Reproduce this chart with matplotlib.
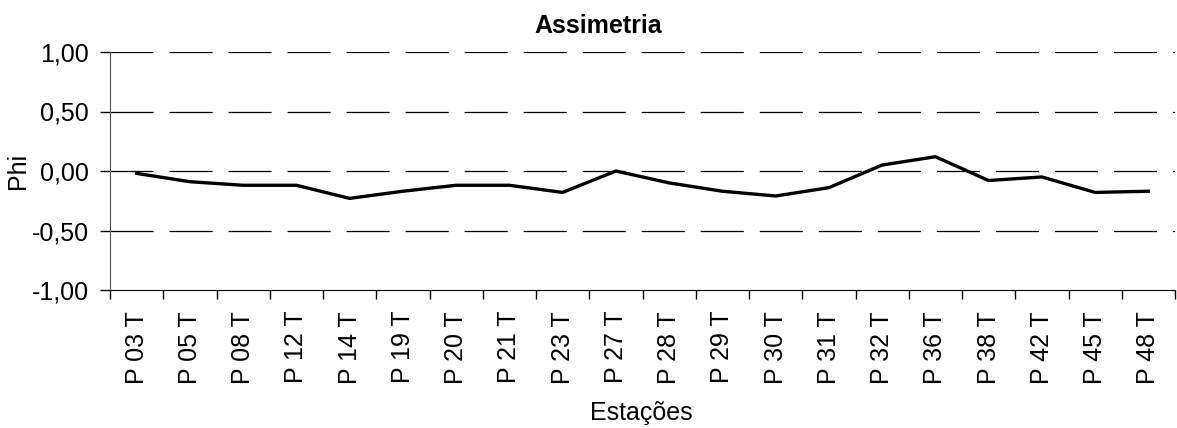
import numpy as np
import matplotlib
matplotlib.use('Agg')
import matplotlib.pyplot as plt

plt.rcParams['font.family'] = ['Liberation Sans', 'DejaVu Sans']
plt.rcParams['lines.scale_dashes'] = False

estacoes = ['P 03 T', 'P 05 T', 'P 08 T', 'P 12 T', 'P 14 T', 'P 19 T', 'P 20 T',
            'P 21 T', 'P 23 T', 'P 27 T', 'P 28 T', 'P 29 T', 'P 30 T', 'P 31 T',
            'P 32 T', 'P 36 T', 'P 38 T', 'P 42 T', 'P 45 T', 'P 48 T']
phi = [-0.02, -0.09, -0.12, -0.12, -0.23, -0.17, -0.12, -0.12, -0.18, 0.00,
       -0.10, -0.17, -0.21, -0.14, 0.05, 0.12, -0.08, -0.05, -0.18, -0.17]
yticks = [-1.0, -0.5, 0.0, 0.5, 1.0]

W, H = 1177, 428
fig = plt.figure(figsize=(W/100, H/100), dpi=100)
ax = fig.add_axes([110/W, (H-290)/H, 1065/W, 238/H])

x = np.arange(len(estacoes))
ax.plot(x, phi, color='black', linewidth=2.4, zorder=3)

ax.set_xlim(-0.5, len(estacoes) - 0.5)
ax.set_ylim(-1, 1)

# eixo y + grade tracejada
ax.set_yticks(yticks)
ax.set_yticklabels([('%.2f' % v).replace('.', ',') for v in yticks], fontsize=18)
ax.yaxis.set_tick_params(length=7.2, width=1, color='black', pad=8)
for v in yticks[1:]:
    ax.axhline(v, color='black', linewidth=0.9, dashes=(31, 11.5), zorder=1)

# marcas entre categorias, rótulos no centro
ax.set_xticks(np.arange(-0.5, len(estacoes), 1.0))
ax.set_xticklabels([])
ax.tick_params(axis='x', which='major', length=6.3, width=1, color='black')
ax.set_xticks(x, minor=True)
ax.set_xticklabels(estacoes, minor=True, rotation=90, fontsize=18)
ax.tick_params(axis='x', which='minor', length=0, pad=15)

ax.spines['top'].set_visible(False)
ax.spines['right'].set_visible(False)
ax.spines['left'].set_color('#555555')
ax.spines['bottom'].set_color('black')

fig.text(598/W, (H-33)/H, 'Assimetria', fontsize=18, fontweight='bold',
         ha='center', va='baseline')
ax.set_ylabel('Phi', fontsize=18, labelpad=1)
fig.text(641/W, (H-420)/H, 'Estações', fontsize=18, ha='center', va='baseline')

plt.savefig('out.png', dpi=100)
